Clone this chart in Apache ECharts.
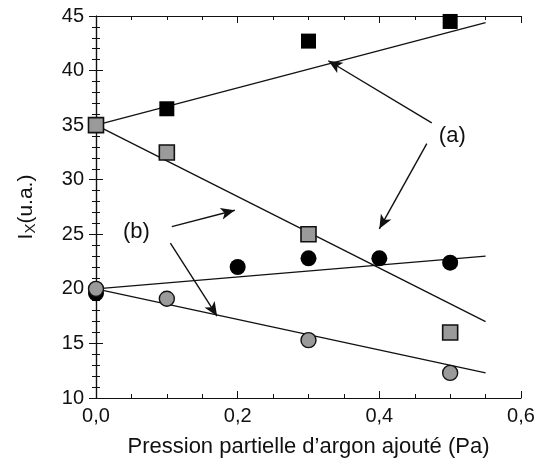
<!DOCTYPE html>
<html><head><meta charset="utf-8">
<script src="https://cdn.jsdelivr.net/npm/echarts@6/dist/echarts.min.js"></script>
<style>html,body{margin:0;padding:0;background:#fff}#c{width:545px;height:465px}</style>
</head><body><div id="c"></div>
<script>
// data
var pressure = [0, 0.1, 0.3, 0.5];
var pressureB = [0, 0.2, 0.3, 0.4, 0.5];
var aBlackSquares = [35, 36.5, 42.7, 44.5];
var aGraySquares = [35, 32.5, 25, 16];
var bBlackCircles = [19.6, 22, 22.8, 22.8, 22.4];
var bGrayCircles = [20, 19.1, 15.3, 12.3];
var fitX = [0, 0.55];
var fitATop = [35, 44.4];
var fitABottom = [35, 17];
var fitBTop = [20, 23];
var fitBBottom = [20, 12.3];
var xTickLabels = {'0': '0,0', '0.2': '0,2', '0.4': '0,4', '0.6': '0,6'};
var yTickLabels = [10, 15, 20, 25, 30, 35, 40, 45];
// annotations (data coords)
var arrowsA = [[[0.474, 35.2], [0.328, 40.9]], [[0.467, 33.3], [0.400, 25.5]]];
var arrowsB = [[[0.107, 25.7], [0.196, 27.2]], [[0.105, 24.2], [0.171, 17.5]]];
var labelA = [0.503, 34.0];
var labelB = [0.057, 25.2];

function pairs(xs, ys) { return ys.map(function (y, i) { return [xs[i], y]; }); }

var FONT = 'Liberation Sans';
var ink = '#111';
var grayFill = '#9a9a9a';

var chart = echarts.init(document.getElementById('c'), null, {renderer: 'canvas'});
var baseAxisLine = {show: true, lineStyle: {color: ink, width: 1.2}};
var opt = {
  animation: false,
  backgroundColor: '#fff',
  textStyle: {fontFamily: FONT},
  grid: {left: 96, right: 24, top: 16, bottom: 67},
  xAxis: [{
    type: 'value', min: 0, max: 0.6, interval: 0.2,
    axisLine: baseAxisLine,
    axisTick: {inside: true, length: 7, lineStyle: {color: ink}},
    minorTick: {show: true, splitNumber: 4, length: 4, lineStyle: {color: ink}},
    splitLine: {show: false},
    axisLabel: {fontSize: 20, color: ink, margin: 8, fontFamily: FONT,
      formatter: function (v) { var k = String(+v.toFixed(1)); return xTickLabels[k] || ''; }},
    name: 'Pression partielle d\u2019argon ajout\u00e9 (Pa)',
    nameLocation: 'middle', nameGap: 38,
    nameTextStyle: {fontSize: 22, color: ink, fontFamily: FONT}
  }, {
    type: 'value', min: 0, max: 0.6, interval: 0.2, position: 'top',
    axisLine: baseAxisLine,
    axisTick: {inside: true, length: 7, lineStyle: {color: ink}},
    minorTick: {show: true, splitNumber: 4, length: 4, lineStyle: {color: ink}},
    splitLine: {show: false}, axisLabel: {show: false}
  }],
  yAxis: [{
    type: 'value', min: 10, max: 45, interval: 5,
    axisLine: baseAxisLine,
    axisTick: {inside: true, length: 7, lineStyle: {color: ink}},
    minorTick: {show: true, splitNumber: 5, length: 4, lineStyle: {color: ink}},
    splitLine: {show: false},
    axisLabel: {fontSize: 20, color: ink, margin: 12, fontFamily: FONT,
      formatter: function (v) { return yTickLabels.indexOf(v) >= 0 ? String(v) : ''; }},
    name: '{m|I}{s|X}{m|(u.a.)}',
    nameLocation: 'middle', nameGap: 58, nameRotate: 90,
    nameTextStyle: {color: ink, fontFamily: FONT,
      rich: {m: {fontSize: 21, color: ink, fontFamily: FONT},
             s: {fontSize: 15, color: ink, fontFamily: FONT, verticalAlign: 'bottom', padding: [8, 0, 0, 0]}}}
  }, {
    type: 'value', min: 10, max: 45, interval: 5, position: 'right',
    axisLine: baseAxisLine,
    axisTick: {inside: true, length: 7, lineStyle: {color: ink}},
    minorTick: {show: true, splitNumber: 5, length: 4, lineStyle: {color: ink}},
    splitLine: {show: false}, axisLabel: {show: false}
  }],
  series: [
    {type: 'line', data: pairs(fitX, fitATop), symbol: 'none', lineStyle: {color: ink, width: 1.3}, z: 2},
    {type: 'line', data: pairs(fitX, fitABottom), symbol: 'none', lineStyle: {color: ink, width: 1.3}, z: 2},
    {type: 'line', data: pairs(fitX, fitBTop), symbol: 'none', lineStyle: {color: ink, width: 1.3}, z: 2},
    {type: 'line', data: pairs(fitX, fitBBottom), symbol: 'none', lineStyle: {color: ink, width: 1.3}, z: 2},
    {type: 'scatter', data: pairs(pressure, aBlackSquares), symbol: 'rect', symbolSize: 15,
      itemStyle: {color: '#000', opacity: 1}, z: 3},
    {type: 'scatter', data: pairs(pressure, aGraySquares), symbol: 'rect', symbolSize: 15,
      itemStyle: {color: grayFill, borderColor: '#111', borderWidth: 1.6, opacity: 1}, z: 4},
    {type: 'scatter', data: pairs(pressureB, bBlackCircles), symbol: 'circle', symbolSize: 16,
      itemStyle: {color: '#000', opacity: 1}, z: 3},
    {type: 'scatter', data: pairs(pressure, bGrayCircles), symbol: 'circle', symbolSize: 15,
      itemStyle: {color: grayFill, borderColor: '#111', borderWidth: 1.4, opacity: 1}, z: 4},
    {type: 'scatter', data: [], z: 5,
      markLine: {silent: true, symbol: ['none', 'arrow'], symbolSize: [9, 14],
        lineStyle: {color: ink, width: 1.4, type: 'solid'}, label: {show: false},
        data: arrowsA.concat(arrowsB).map(function (a) { return [{coord: a[0]}, {coord: a[1]}]; })},
      markPoint: {silent: true, symbol: 'circle', symbolSize: 1, itemStyle: {color: 'rgba(0,0,0,0)'},
        label: {show: true, color: ink, fontSize: 22, fontFamily: FONT, position: 'inside'},
        data: [{coord: labelA, value: '(a)'}, {coord: labelB, value: '(b)'}]}
    }
  ]
};
chart.setOption(opt);
</script></body></html>
